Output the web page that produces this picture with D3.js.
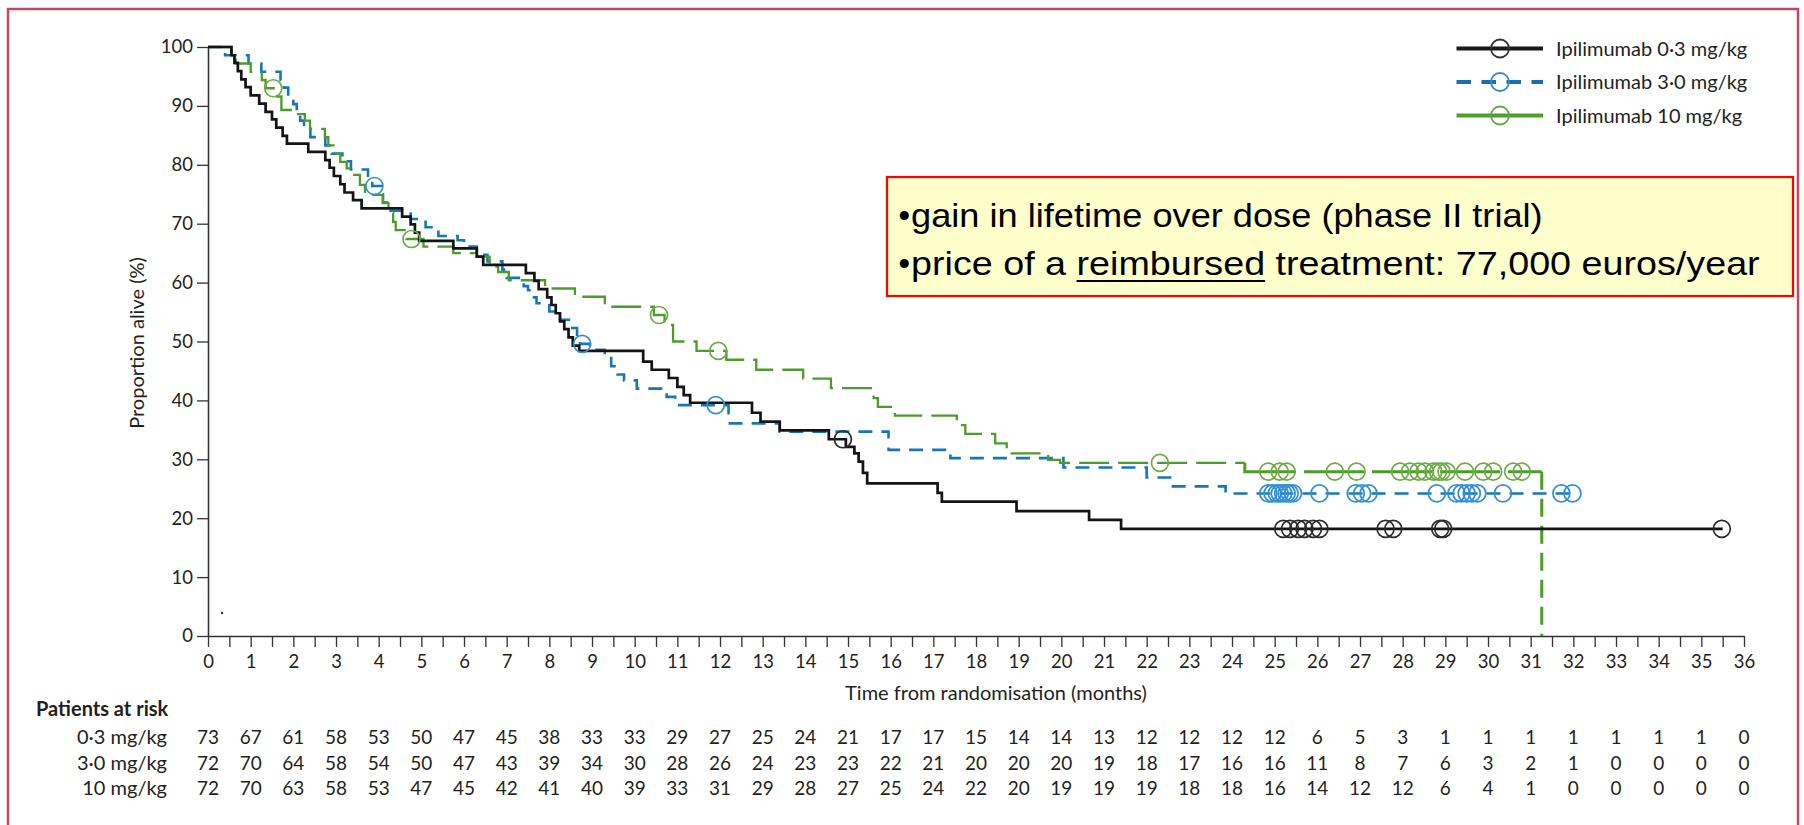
<!DOCTYPE html>
<html>
<head>
<meta charset="utf-8">
<script src="https://cdn.jsdelivr.net/npm/d3@7"></script>
<style>
  body { margin: 0; background: #fff; }
  svg { display: block; }
</style>
</head>
<body>
<svg id="chart"></svg>
<script>
// ---- data ----
const monthTicks = d3.range(0, 37);
const halfMonthTicks = d3.range(0, 36.01, 0.5);
const yTicks = d3.range(0, 101, 10);

const legendNames = ["Ipilimumab 0·3 mg/kg", "Ipilimumab 3·0 mg/kg", "Ipilimumab 10 mg/kg"];
const riskRowNames = ["0·3 mg/kg", "3·0 mg/kg", "10 mg/kg"];

// [month, % alive from that month on]
const steps03 = [[0,100],[0.55,98.6],[0.62,97.3],[0.7,95.9],[0.78,94.5],[0.88,93.2],[1.0,91.8],[1.2,90.4],[1.35,89.0],[1.5,87.7],[1.6,86.3],[1.75,84.9],[1.85,83.6],[2.35,82.2],[2.75,80.8],[2.85,79.5],[2.95,78.1],[3.1,76.7],[3.2,75.3],[3.4,74.0],[3.6,72.6],[4.55,71.2],[4.75,69.9],[4.85,68.5],[4.95,67.1],[5.75,65.8],[6.3,64.4],[6.45,63.0],[7.45,61.6],[7.65,60.3],[7.75,58.9],[7.95,57.5],[8.05,56.2],[8.15,54.8],[8.25,53.4],[8.35,52.1],[8.45,50.7],[8.55,49.3],[8.7,48.4],[10.2,46.6],[10.4,45.2],[10.8,43.8],[11.0,42.3],[11.15,40.9],[11.3,39.6],[12.75,37.9],[12.95,36.4],[13.4,34.9],[14.55,33.4],[14.95,32.1],[15.15,31.0],[15.25,29.6],[15.35,27.7],[15.45,25.9],[17.1,24.3],[17.2,22.8],[18.95,21.2],[20.65,19.7],[21.4,18.2]];
const end03 = 35.5;
const censor03 = [14.88, 25.2, 25.36, 25.55, 25.7, 25.9, 26.05, 27.6, 27.78, 28.88, 28.95, 35.48];

const steps30 = [[0,100],[0.4,98.6],[0.95,97.2],[1.25,95.8],[1.7,94.4],[1.78,93.1],[1.88,91.7],[2.0,90.3],[2.08,88.9],[2.16,87.5],[2.25,86.1],[2.4,84.7],[2.75,83.3],[2.9,81.9],[3.15,80.6],[3.35,79.2],[3.75,77.8],[3.85,76.4],[4.05,75.0],[4.1,73.6],[4.2,72.2],[4.75,70.8],[5.1,69.4],[5.4,67.9],[5.85,67.2],[6.0,66.1],[6.3,64.7],[6.55,63.6],[6.9,62.2],[7.0,60.8],[7.4,59.4],[7.5,58.7],[7.6,57.5],[7.7,56.5],[8.0,55.1],[8.25,53.7],[8.5,52.3],[8.65,50.9],[8.72,49.6],[8.95,48.6],[9.3,47.2],[9.45,45.8],[9.6,44.4],[9.75,43.4],[10.05,42.0],[10.75,40.6],[10.95,39.2],[12.2,36.1],[13.4,34.7],[15.95,31.6],[17.4,30.2],[20.05,28.6],[22.0,26.9],[22.55,25.4],[23.85,24.2]];
const end30 = 32.1;
const censor30 = [3.9, 8.77, 11.9, 24.85, 24.95, 25.05, 25.12, 25.2, 25.28, 25.35, 25.43, 26.05, 26.9, 27.05, 27.2, 28.8, 29.26, 29.38, 29.5, 29.62, 29.75, 30.35, 31.72, 31.98];

const steps10 = [[0,100],[0.55,98.6],[0.65,97.2],[1.0,95.8],[1.26,94.4],[1.35,93.0],[1.62,91.6],[1.72,89.3],[2.0,88.6],[2.27,87.5],[2.39,86.1],[2.74,84.7],[2.82,83.3],[2.98,81.9],[3.1,80.5],[3.25,79.4],[3.37,78.3],[3.56,76.6],[3.68,74.9],[4.1,73.5],[4.23,71.8],[4.34,70.3],[4.4,68.9],[4.65,67.4],[5.05,66.1],[5.75,65.0],[6.3,64.4],[6.6,62.7],[6.8,61.8],[7.05,60.4],[7.9,59.0],[8.6,57.6],[9.3,55.9],[10.45,54.5],[10.7,52.8],[10.9,50.0],[11.45,48.4],[12.15,46.9],[12.85,45.2],[13.95,43.7],[14.6,42.1],[15.6,40.4],[15.7,38.9],[16.1,37.4],[17.55,35.8],[17.75,34.3],[18.45,32.7],[18.72,31.0],[19.69,29.9],[19.97,29.4],[24.3,27.9]];
const end10 = 31.26;
const censor10 = [1.53, 4.77, 10.57, 11.96, 22.31, 24.85, 25.12, 25.28, 26.41, 26.92, 27.94, 28.17, 28.37, 28.52, 28.72, 28.83, 28.91, 29.03, 29.46, 29.89, 30.12, 30.59, 30.79];

const risk03 = [73,67,61,58,53,50,47,45,38,33,33,29,27,25,24,21,17,17,15,14,14,13,12,12,12,12,6,5,3,1,1,1,1,1,1,1,0];
const risk30 = [72,70,64,58,54,50,47,43,39,34,30,28,26,24,23,23,22,21,20,20,20,19,18,17,16,16,11,8,7,6,3,2,1,0,0,0,0];
const risk10 = [72,70,63,58,53,47,45,42,41,40,39,33,31,29,28,27,25,24,22,20,19,19,19,18,18,16,14,12,12,6,4,1,0,0,0,0,0];

const strayDot = [0.33, 3.9];

const noteLine1 = "gain in lifetime over dose (phase II trial)";
const noteLine2a = "price of a ";
const noteLine2b = "reimbursed";
const noteLine2c = " treatment: 77,000 euros/year";

// ---- drawing ----
const W = 1804, H = 825;
const lancet = "Lato, 'Open Sans', sans-serif";
const ink = "#231f20";

const svg = d3.select("#chart").attr("width", W).attr("height", H);

const x = d3.scaleLinear().domain([0, 36]).range([208, 1744]);
const y = d3.scaleLinear().domain([0, 100]).range([636, 47]);

// outer frame
svg.append("rect")
    .attr("x", 8).attr("y", 9)
    .attr("width", 1790).attr("height", 830)
    .attr("fill", "none")
    .attr("stroke", "#c34a5e")
    .attr("stroke-width", 2.5);

// axes
let yAxis = svg.append("g")
    .attr("transform", "translate(" + x(0) + ",0)")
    .call(d3.axisLeft(y).tickValues(yTicks).tickSize(11).tickSizeOuter(0).tickPadding(4));

let xAxis = svg.append("g")
    .attr("transform", "translate(0," + y(0) + ")")
    .call(d3.axisBottom(x).tickValues(halfMonthTicks).tickSize(11).tickSizeOuter(0)
        .tickFormat(function (d) { return Number.isInteger(d) ? d : ""; }));

[yAxis, xAxis].forEach(function (g) {
    g.select(".domain").attr("stroke", "#333").attr("stroke-width", 1.6);
    g.selectAll(".tick line").attr("stroke", "#333").attr("stroke-width", 1.3);
    g.selectAll("text").attr("fill", ink).style("font-family", lancet).style("font-size", "18.5px");
});
xAxis.selectAll("text").attr("y", 26).attr("dy", "0.35em");

// axis titles
svg.append("text")
    .attr("x", 996).attr("y", 700)
    .attr("text-anchor", "middle")
    .attr("fill", ink)
    .style("font-family", lancet).style("font-size", "20px")
    .text("Time from randomisation (months)");

svg.append("text")
    .attr("transform", "translate(144,343) rotate(-90)")
    .attr("text-anchor", "middle")
    .attr("fill", ink)
    .style("font-family", lancet).style("font-size", "20px")
    .text("Proportion alive (%)");

// curves
const stepLine = d3.line()
    .x(function (d) { return x(d[0]); })
    .y(function (d) { return y(d[1]); })
    .curve(d3.curveStepAfter);

function withEnd(steps, end) {
    let pts = steps.slice();
    pts.push([end, steps[steps.length - 1][1]]);
    return pts;
}

function valueAt(steps, t) {
    let v = steps[0][1];
    for (let i = 0; i < steps.length; i++) {
        if (steps[i][0] <= t) v = steps[i][1];
    }
    return v;
}

const curves = svg.append("g").attr("fill", "none");

// 3.0 mg/kg, dashed blue
curves.append("path")
    .attr("d", stepLine(withEnd(steps30, end30)))
    .attr("stroke", "#1776b8")
    .attr("stroke-width", 2.6)
    .attr("stroke-dasharray", "14,9");

// 10 mg/kg, green: long dashes, then heavier tail, then dashed drop
let greenHead = steps10.slice(0, steps10.length - 1);
let greenTail = steps10.slice(steps10.length - 1);
curves.append("path")
    .attr("d", stepLine(withEnd(greenHead, greenTail[0][0])))
    .attr("stroke", "#4b9c2a")
    .attr("stroke-width", 2.3)
    .attr("stroke-dasharray", "30,9");
curves.append("path")
    .attr("d", stepLine([[greenTail[0][0], greenHead[greenHead.length - 1][1]]].concat(withEnd(greenTail, end10))))
    .attr("stroke", "#4b9c2a")
    .attr("stroke-width", 3)
    .attr("stroke-dasharray", "60,8");
curves.append("line")
    .attr("x1", x(end10)).attr("x2", x(end10))
    .attr("y1", y(greenTail[0][1])).attr("y2", y(0))
    .attr("stroke", "#4b9c2a")
    .attr("stroke-width", 3)
    .attr("stroke-dasharray", "18,9");

// 0.3 mg/kg, solid black
curves.append("path")
    .attr("d", stepLine(withEnd(steps03, end03)))
    .attr("stroke", "#141414")
    .attr("stroke-width", 2.7);

// censor marks
const censorSets = [
    { steps: steps30, times: censor30, color: "#3590d0" },
    { steps: steps10, times: censor10, color: "#6cab45" },
    { steps: steps03, times: censor03, color: "#2a2a2a" }
];
censorSets.forEach(function (s) {
    curves.append("g").selectAll("circle")
        .data(s.times)
        .enter().append("circle")
        .attr("cx", function (d) { return x(d); })
        .attr("cy", function (d) { return y(valueAt(s.steps, d)); })
        .attr("r", 8.5)
        .attr("stroke", s.color)
        .attr("stroke-width", 1.7);
});

svg.append("circle")
    .attr("cx", x(strayDot[0])).attr("cy", y(strayDot[1]))
    .attr("r", 1.2).attr("fill", "#333");

// legend
const legendStyles = [
    { color: "#1a1a1a", dash: null, ring: "#333" },
    { color: "#1b6fae", dash: "14.5,10.5", ring: "#2f8ccf" },
    { color: "#4e9e2c", dash: null, ring: "#63a83f" }
];
let legend = svg.append("g");
legendNames.forEach(function (name, i) {
    let ly = 48.5 + i * 33.5;
    let st = legendStyles[i];
    legend.append("line")
        .attr("x1", 1456.5).attr("x2", 1543)
        .attr("y1", ly).attr("y2", ly)
        .attr("stroke", st.color)
        .attr("stroke-width", 4.2)
        .attr("stroke-dasharray", st.dash);
    legend.append("circle")
        .attr("cx", 1500).attr("cy", ly).attr("r", 9)
        .attr("fill", "none")
        .attr("stroke", st.ring)
        .attr("stroke-width", 1.8);
    legend.append("text")
        .attr("x", 1556).attr("y", ly + 7)
        .attr("fill", ink)
        .style("font-family", lancet).style("font-size", "20px")
        .text(name);
});

// patients at risk table
svg.append("text")
    .attr("x", 36).attr("y", 716)
    .attr("fill", ink)
    .style("font-family", lancet).style("font-size", "20px").style("font-weight", "bold")
    .text("Patients at risk");

const riskRows = [risk03, risk30, risk10];
const rowBase = [744, 769.5, 795];
riskRows.forEach(function (row, i) {
    svg.append("text")
        .attr("x", 167).attr("y", rowBase[i])
        .attr("text-anchor", "end")
        .attr("fill", ink)
        .style("font-family", lancet).style("font-size", "20px")
        .text(riskRowNames[i]);
    svg.append("g").selectAll("text")
        .data(row)
        .enter().append("text")
        .attr("x", function (d, j) { return x(monthTicks[j]); })
        .attr("y", rowBase[i])
        .attr("text-anchor", "middle")
        .attr("fill", ink)
        .style("font-family", lancet).style("font-size", "19px")
        .text(function (d) { return d; });
});

// annotation box
svg.append("rect")
    .attr("x", 887).attr("y", 177)
    .attr("width", 906).attr("height", 119)
    .attr("fill", "#ffffcc")
    .attr("stroke", "#ff0000")
    .attr("stroke-width", 2.2);

const noteFont = "'Liberation Sans', Arial, sans-serif";
const noteX = 911;
[226.5, 275].forEach(function (by) {
    svg.append("text")
        .attr("x", noteX - 1).attr("y", by)
        .attr("text-anchor", "end")
        .attr("fill", "#000")
        .style("font-family", noteFont).style("font-size", "33px")
        .text("•");
});

let note1 = svg.append("text")
    .attr("fill", "#000")
    .style("font-family", noteFont).style("font-size", "33px")
    .text(noteLine1);
let s1 = 632 / note1.node().getComputedTextLength();
note1.attr("transform", "translate(" + noteX + ",226.5) scale(" + s1 + ",1)");

let note2 = svg.append("text")
    .attr("fill", "#000")
    .style("font-family", noteFont).style("font-size", "33px");
note2.append("tspan").text(noteLine2a);
note2.append("tspan").text(noteLine2b);
note2.append("tspan").text(noteLine2c);
let n2 = note2.node();
let s2 = 849 / n2.getComputedTextLength();
note2.attr("transform", "translate(" + noteX + ",275) scale(" + s2 + ",1)");
let uStart = n2.getSubStringLength(0, noteLine2a.length) * s2;
let uLen = n2.getSubStringLength(noteLine2a.length, noteLine2b.length) * s2;
svg.append("line")
    .attr("x1", noteX + uStart).attr("x2", noteX + uStart + uLen)
    .attr("y1", 281).attr("y2", 281)
    .attr("stroke", "#000").attr("stroke-width", 2);
</script>
</body>
</html>
